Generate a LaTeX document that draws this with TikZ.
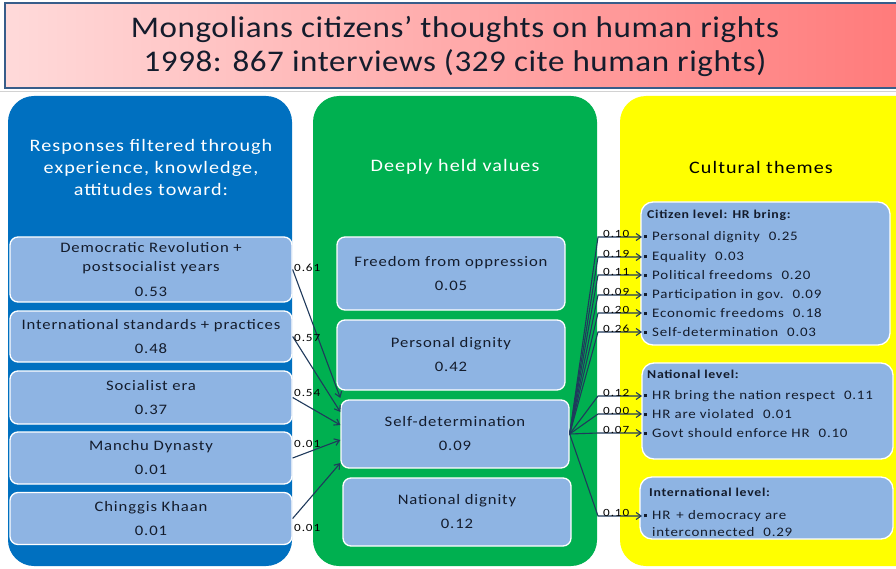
\documentclass[tikz,border=0pt]{standalone}
\usepackage{fontspec}
\setmainfont{Carlito}
\newfontfamily\widefont[FakeStretch=1.15,LetterSpace=6]{Carlito}
\newfontfamily\bannerfont[FakeStretch=1.1,LetterSpace=2]{Carlito}
\newfontfamily\numfont[FakeStretch=1.2,LetterSpace=8]{Carlito}
\usetikzlibrary{arrows.meta,calc}

\definecolor{panelblue}{HTML}{0070C0}
\definecolor{panelgreen}{HTML}{00B050}
\definecolor{panelyellow}{HTML}{FFFF00}
\definecolor{boxfill}{HTML}{8EB4E3}
\definecolor{inktext}{HTML}{141C2C}
\definecolor{linkcol}{HTML}{1F3A5C}
\definecolor{titleleft}{HTML}{FFDADA}
\definecolor{titleright}{HTML}{FF7A7A}
\definecolor{titleframe}{HTML}{385D8A}

\newcommand{\bulsq}{\rule[2.2pt]{3pt}{3pt}\hspace{5pt}}
\newcommand{\valgap}{\hspace{9pt}}

\tikzset{
  panel/.style={rounded corners=26pt},
  itembox/.style={draw=white, line width=1.3pt, fill=boxfill, rounded corners=8pt,
    align=center, text=inktext, font=\widefont\fontsize{14.5}{19}\selectfont},
  themebox/.style={draw=white, line width=1.3pt, fill=boxfill, rounded corners=12pt},
  headtext/.style={align=center, font=\widefont\fontsize{17.5}{22}\selectfont},
  themetitle/.style={anchor=west, inner sep=0pt, text=inktext,
    font=\widefont\bfseries\fontsize{12}{14}\selectfont},
  themeitem/.style={anchor=west, inner xsep=2pt, inner ysep=0pt, text=inktext,
    font=\widefont\fontsize{13}{16}\selectfont},
  weight/.style={inner sep=0pt, text=black, font=\numfont\fontsize{11}{12}\selectfont},
  link/.style={draw=linkcol, line width=1.1pt, -{Straight Barb[length=5pt,width=7pt]}}
}

\begin{document}
\begin{tikzpicture}[x=1pt,y=-1pt]
\useasboundingbox (0,0) rectangle (896,569);
\fill[white] (0,0) rectangle (896,569);

% title banner
\shade[left color=titleleft, right color=titleright] (5,3) rectangle (905,88);
\draw[titleframe, line width=1.5pt] (905,3) -- (5,3) -- (5,88) -- (905,88);
\draw[gray!35, line width=1.5pt] (0,91.5) -- (896,91.5);
\node[align=center, text=inktext, font=\bannerfont\fontsize{30}{34}\selectfont] (title) at (455,47)
  {Mongolians citizens’ thoughts on human rights\\1998: 867 interviews (329 cite human rights)};

% three column panels
\fill[panel, panelblue] (8,96) rectangle (292,566);
\fill[panel, panelgreen] (313,96) rectangle (597,566);
\fill[panel, panelyellow] (620,96) rectangle (930,566);

\node[headtext, text=white] (hresp) at (151,167)
  {Responses filtered through\\experience, knowledge,\\attitudes toward:};
\node[headtext, text=white] (hvalues) at (455,167) {Deeply held values};
\node[headtext, text=black] (hthemes) at (761,167) {Cultural themes};

% sources of response
\node[itembox, minimum width=282pt, minimum height=65pt] (demo) at (151,269.5)
  {Democratic Revolution +\\postsocialist years\\[6pt]0.53};
\node[itembox, minimum width=282pt, minimum height=51pt] (intl) at (151,336.5)
  {International standards + practices\\[5pt]0.48};
\node[itembox, minimum width=282pt, minimum height=53pt] (soc) at (151,397.5)
  {Socialist era\\[5pt]0.37};
\node[itembox, minimum width=282pt, minimum height=52pt] (manchu) at (151,458)
  {Manchu Dynasty\\[5pt]0.01};
\node[itembox, minimum width=282pt, minimum height=52pt] (ching) at (151,518.5)
  {Chinggis Khaan\\[5pt]0.01};

% deeply held values
\node[itembox, minimum width=228pt, minimum height=73pt] (free) at (451,273.5)
  {Freedom from oppression\\[5pt]0.05};
\node[itembox, minimum width=228pt, minimum height=70pt] (pdig) at (451,355)
  {Personal dignity\\[5pt]0.42};
\node[itembox, minimum width=228pt, minimum height=68pt] (sd) at (455,434)
  {Self-determination\\[5pt]0.09};
\node[itembox, minimum width=228pt, minimum height=68pt] (ndig) at (457,512)
  {National dignity\\[5pt]0.12};

% cultural themes
\node[themebox, minimum width=249pt, minimum height=143pt] (citizen) at (765.5,273.5) {};
\node[themebox, minimum width=251pt, minimum height=96pt] (national) at (767.5,411) {};
\node[themebox, minimum width=253pt, minimum height=62pt] (international) at (766.5,508) {};

\node[themetitle] (tc) at (647,215) {Citizen level: HR bring:};
\node[themeitem] (c1) at (642,237) {\bulsq Personal dignity\valgap 0.25};
\node[themeitem] (c2) at (642,257) {\bulsq Equality\valgap 0.03};
\node[themeitem] (c3) at (642,275) {\bulsq Political freedoms\valgap 0.20};
\node[themeitem] (c4) at (642,295) {\bulsq Participation in gov.\valgap 0.09};
\node[themeitem] (c5) at (642,313) {\bulsq Economic freedoms\valgap 0.18};
\node[themeitem] (c6) at (642,332) {\bulsq Self-determination\valgap 0.03};

\node[themetitle] (tn) at (647,374) {National level:};
\node[themeitem] (n1) at (642,396) {\bulsq HR bring the nation respect\valgap 0.11};
\node[themeitem] (n2) at (642,414) {\bulsq HR are violated\valgap 0.01};
\node[themeitem] (n3) at (642,433) {\bulsq Govt should enforce HR\valgap 0.10};

\node[themetitle] (ti) at (649,492) {International level:};
\node[themeitem] (i1) at (642,516) {\bulsq HR\hspace{6pt}+ democracy are};
\node[themeitem, anchor=west] (i1b) at ($(i1.west)+(8,16)$) {interconnected\valgap 0.29};

% links into self-determination
\draw[link] (demo.east) -- ($(sd.west)+(0,-36)$);
\draw[link] (intl.east) -- ($(sd.west)+(0,-22)$);
\draw[link] (soc.east) -- ($(sd.west)+(0,-9)$);
\draw[link] (manchu.east) -- ($(sd.west)+(0,6)$);
\draw[link] (ching.east) -- ($(sd.west)+(0,29)$);

\node[weight, anchor=west] (w1) at (294,268) {0.61};
\node[weight, anchor=west] (w2) at (294,338) {0.57};
\node[weight, anchor=west] (w3) at (294,393) {0.54};
\node[weight, anchor=west] (w4) at (294,444) {0.01};
\node[weight, anchor=west] (w5) at (294,528) {0.01};

% links out to the cultural themes
\foreach \t/\v in {c1/0.10, c2/0.19, c3/0.11, c4/0.09, c5/0.20, c6/0.26,
                   n1/0.12, n2/0.00, n3/0.07, i1/0.10}{
  \draw[link] (sd.east) -- ($(\t.west)+(-44,0)$) -- (\t.west);
  \node[weight, anchor=base west] (w\t) at ($(\t.west)+(-39,0.5)$) {\v};
}
\end{tikzpicture}
\end{document}
